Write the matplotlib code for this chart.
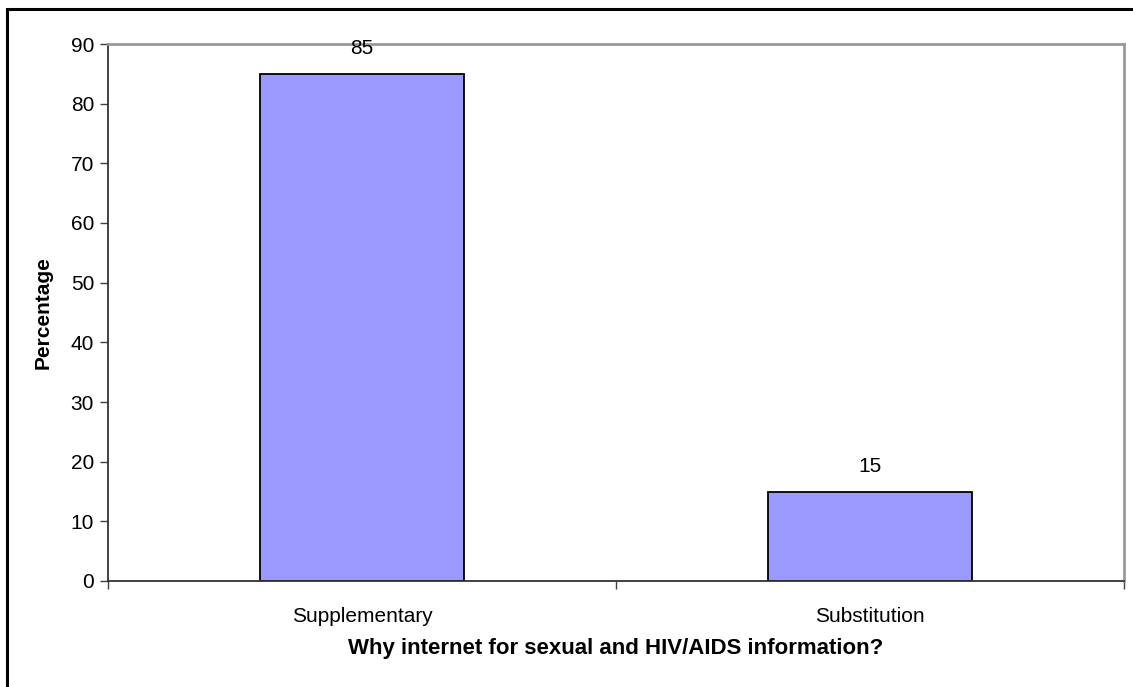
import matplotlib
matplotlib.use("Agg")
import matplotlib.pyplot as plt
from matplotlib.patches import Rectangle

categories = ["Supplementary", "Substitution"]
percentages = [85, 15]
y_ticks = [0, 10, 20, 30, 40, 50, 60, 70, 80, 90]

plt.rcParams["font.family"] = ["Liberation Sans", "DejaVu Sans"]

W, H = 1133, 687
fig = plt.figure(figsize=(W / 100, H / 100), dpi=100)

# outer chart frame (only top and left edges fall inside the canvas)
fig.add_artist(Rectangle((7 / W, -0.1), 1.2, (H - 9) / H + 0.1,
                         transform=fig.transFigure, fill=False,
                         edgecolor="black", linewidth=2.2))

left, top, right, bottom = 108, 44, 1124, 581
ax = fig.add_axes([left / W, 1 - bottom / H, (right - left) / W, (bottom - top) / H])

x = range(len(categories))
ax.bar(x, percentages, width=0.40, color="#9999FF", edgecolor="black", linewidth=1.3)
for xi, v in zip(x, percentages):
    ax.annotate(str(v), (xi, v), xytext=(0, 18), textcoords="offset points",
                ha="center", va="center", fontsize=15)

ax.set_xlim(-0.5, len(categories) - 0.5)
ax.set_ylim(0, 90)
ax.set_yticks(y_ticks)
ax.tick_params(axis="y", labelsize=15, length=6, width=1, color="#404040", pad=4)
ax.set_xticks([-0.5, 0.5, 1.5])
ax.set_xticklabels([])
ax.set_xticks(list(x), minor=True)
ax.set_xticklabels(categories, minor=True, fontsize=15)
ax.tick_params(axis="x", which="major", length=6, width=1, color="#404040", direction="out")
ax.tick_params(axis="x", which="minor", length=0, pad=18.5)

for s in ("top", "right"):
    ax.spines[s].set_color("#999999")
    ax.spines[s].set_linewidth(2)
for s in ("left", "bottom"):
    ax.spines[s].set_color("#333333")
    ax.spines[s].set_linewidth(1.3)

ax.set_ylabel("Percentage", fontsize=15, fontweight="bold", labelpad=13)
ax.set_xlabel("Why internet for sexual and HIV/AIDS information?", fontsize=16,
              fontweight="bold", labelpad=9)

fig.savefig("out.png", dpi=100)
